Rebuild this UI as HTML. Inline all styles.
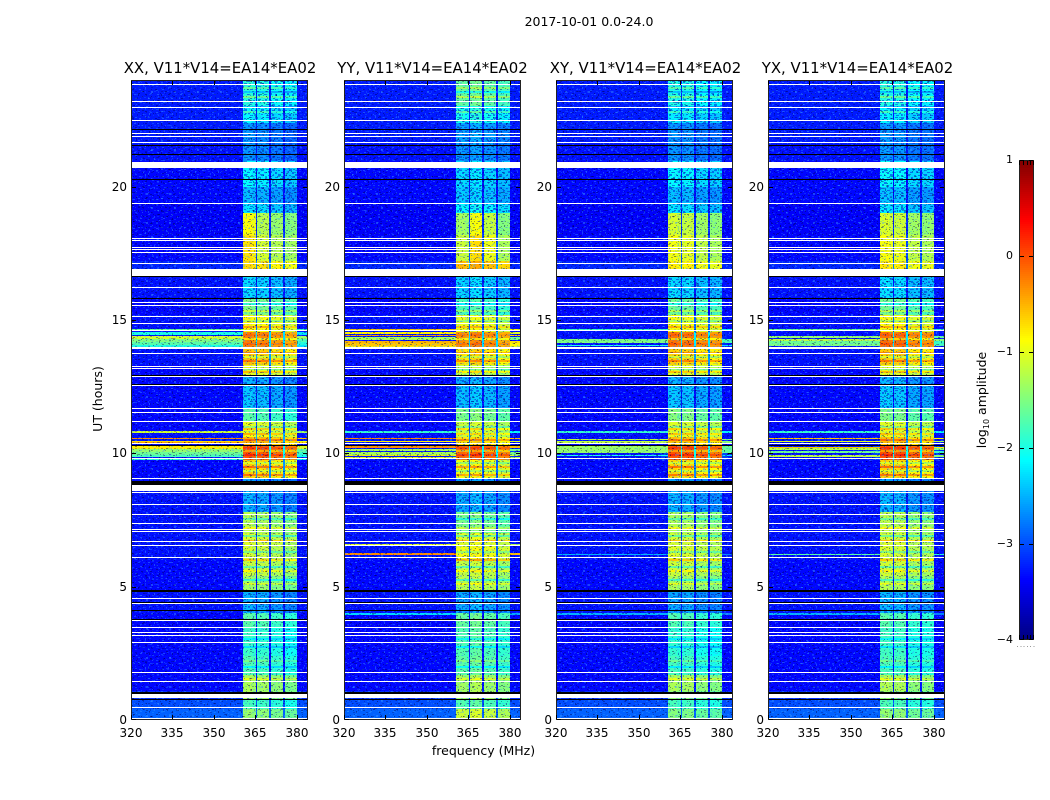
<!DOCTYPE html>
<html lang="en">
<head>
<meta charset="utf-8">
<title>2017-10-01 0.0-24.0 dynamic spectra</title>
<style>
  html, body { margin: 0; padding: 0; background: #fff; }
  svg { display: block; font-family: "DejaVu Sans", "Liberation Sans", sans-serif; fill: #000; }
  .title { font-size: 14.9px; text-anchor: middle; }
  .tick { font-size: 12px; }
  .label { font-size: 12.5px; }
</style>
</head>
<body>
<svg id="figure" width="1050" height="800" viewBox="0 0 1050 800" xmlns="http://www.w3.org/2000/svg">
  <defs>
    <pattern id="speckle-a" width="23" height="29" patternUnits="userSpaceOnUse">
      <g fill="#40a0ff" fill-opacity="0.4">
        <rect x="1" y="2" width="2" height="1"/><rect x="7" y="0" width="1" height="2"/><rect x="13" y="4" width="2" height="2"/>
        <rect x="19" y="7" width="2" height="1"/><rect x="4" y="9" width="1" height="1"/><rect x="10" y="11" width="2" height="1"/>
        <rect x="16" y="13" width="1" height="2"/><rect x="2" y="15" width="2" height="1"/><rect x="21" y="17" width="1" height="1"/>
        <rect x="8" y="19" width="2" height="2"/><rect x="14" y="22" width="1" height="1"/><rect x="0" y="24" width="2" height="1"/>
        <rect x="18" y="25" width="2" height="1"/><rect x="5" y="27" width="1" height="1"/><rect x="11" y="26" width="1" height="2"/>
      </g>
      <g fill="#000050" fill-opacity="0.45">
        <rect x="4" y="4" width="2" height="1"/><rect x="10" y="1" width="1" height="1"/><rect x="17" y="2" width="2" height="1"/>
        <rect x="0" y="7" width="1" height="2"/><rect x="7" y="7" width="2" height="1"/><rect x="13" y="9" width="1" height="1"/>
        <rect x="20" y="11" width="2" height="1"/><rect x="5" y="13" width="2" height="1"/><rect x="11" y="15" width="1" height="2"/>
        <rect x="18" y="18" width="2" height="1"/><rect x="3" y="20" width="1" height="1"/><rect x="12" y="20" width="2" height="1"/>
        <rect x="7" y="24" width="2" height="1"/><rect x="15" y="26" width="1" height="1"/><rect x="21" y="22" width="1" height="2"/>
      </g>
    </pattern>
    <pattern id="speckle-b" width="31" height="19" patternUnits="userSpaceOnUse">
      <g fill="#30b0ff" fill-opacity="0.3">
        <rect x="3" y="1" width="1" height="1"/><rect x="11" y="3" width="2" height="1"/><rect x="24" y="2" width="1" height="2"/>
        <rect x="17" y="6" width="1" height="1"/><rect x="6" y="8" width="2" height="1"/><rect x="28" y="9" width="2" height="1"/>
        <rect x="14" y="11" width="2" height="1"/><rect x="21" y="13" width="1" height="1"/><rect x="1" y="14" width="2" height="1"/>
        <rect x="9" y="16" width="1" height="1"/><rect x="26" y="17" width="2" height="1"/>
      </g>
      <g fill="#000040" fill-opacity="0.36">
        <rect x="7" y="2" width="2" height="1"/><rect x="18" y="1" width="1" height="1"/><rect x="29" y="5" width="1" height="1"/>
        <rect x="2" y="5" width="2" height="1"/><rect x="12" y="7" width="1" height="1"/><rect x="22" y="7" width="2" height="1"/>
        <rect x="9" y="12" width="1" height="1"/><rect x="18" y="15" width="2" height="1"/><rect x="5" y="17" width="1" height="1"/>
        <rect x="27" y="13" width="1" height="1"/><rect x="14" y="17" width="2" height="1"/>
      </g>
    </pattern>
    <pattern id="speckle-c" width="13" height="17" patternUnits="userSpaceOnUse">
      <g fill="#2c80ff" fill-opacity="0.28">
        <rect x="0" y="1" width="2" height="1"/><rect x="5" y="3" width="1" height="1"/><rect x="9" y="0" width="2" height="1"/>
        <rect x="2" y="6" width="1" height="2"/><rect x="11" y="6" width="2" height="1"/><rect x="6" y="9" width="2" height="1"/>
        <rect x="1" y="12" width="2" height="1"/><rect x="10" y="13" width="1" height="1"/><rect x="5" y="15" width="2" height="1"/>
      </g>
      <g fill="#000060" fill-opacity="0.3">
        <rect x="3" y="0" width="1" height="1"/><rect x="8" y="2" width="2" height="1"/><rect x="0" y="4" width="1" height="1"/>
        <rect x="5" y="6" width="2" height="1"/><rect x="9" y="8" width="1" height="1"/><rect x="3" y="10" width="1" height="1"/>
        <rect x="12" y="11" width="1" height="1"/><rect x="7" y="12" width="1" height="2"/><rect x="2" y="15" width="2" height="1"/>
      </g>
    </pattern>
    <pattern id="band-mottle" width="17" height="13" patternUnits="userSpaceOnUse">
      <g fill="#0030e0" fill-opacity="0.62">
        <rect x="0" y="0" width="3" height="2"/><rect x="6" y="1" width="2" height="1"/><rect x="11" y="0" width="3" height="1"/>
        <rect x="3" y="3" width="2" height="2"/><rect x="9" y="3" width="3" height="1"/><rect x="15" y="2" width="2" height="2"/>
        <rect x="0" y="6" width="2" height="1"/><rect x="6" y="5" width="3" height="2"/><rect x="13" y="6" width="2" height="1"/>
        <rect x="3" y="8" width="3" height="1"/><rect x="10" y="8" width="2" height="2"/><rect x="15" y="9" width="2" height="1"/>
        <rect x="0" y="10" width="2" height="2"/><rect x="6" y="10" width="2" height="1"/><rect x="12" y="11" width="3" height="1"/>
      </g>
    </pattern>
  </defs>

  <rect x="0" y="0" width="1050" height="800" fill="#fff"/>
  <g id="panels"></g>
  <g id="colorbar"></g>

  <text x="589" y="26" font-size="12.5" text-anchor="middle">2017-10-01 0.0-24.0</text>
  <text class="title" x="220" y="73">XX, V11*V14=EA14*EA02</text>
  <text class="title" x="432.5" y="73">YY, V11*V14=EA14*EA02</text>
  <text class="title" x="645.5" y="73">XY, V11*V14=EA14*EA02</text>
  <text class="title" x="857.5" y="73">YX, V11*V14=EA14*EA02</text>
  <text class="label" text-anchor="middle" transform="translate(102 399) rotate(-90)">UT (hours)</text>
  <text class="label" x="483.5" y="755" text-anchor="middle">frequency (MHz)</text>
  <text class="label" text-anchor="middle" transform="translate(986 400) rotate(-90)">log<tspan font-size="8" dy="3">10</tspan><tspan dy="-3"> amplitude</tspan></text>
</svg>

<script>
// ---- Chart data ----
const panelNames = ['xx', 'yy', 'xy', 'yx'];
const freqTicks = [320, 335, 350, 365, 380];
const hourTicks = [0, 5, 10, 15, 20];
const colorbarTicks = [1, 0, -1, -2, -3, -4];

// Frequency bins (MHz) and response of each bin relative to the band level (log10)
const freqEdges = [320, 345, 352, 355, 358, 360.6, 362, 363.6, 365.1, 365.6, 367, 369.9, 370.7, 373, 375, 375.6, 378, 379.9, 382, 384];
const freqShape = [-9, -3.6, -3.3, -3.1, -2.9, 0.05, 0.08, 0, -1.9, 0, 0.05, -1.9, 0, 0.03, -1.9, 0, 0.03, -2.9, -3.1];

// Time segments (hours) and levels
const segmentHours = [0, 0.4, 0.8, 1.1, 1.7, 2.4, 3.5, 4.0, 4.85, 5.4, 6.0, 6.5, 7.0, 7.8, 8.6, 9.06, 9.75, 10.3, 10.76, 11.2, 11.7, 12.6, 12.91, 13.3, 13.9, 14.55, 15.2, 15.8, 16.6, 16.9, 17.2, 18.2, 19.0, 19.4, 20.0, 20.95, 21.6, 22.4, 23.0, 24];
const backgroundLevels = [-2.9, -3.0, -3.15, -3.35, -3.35, -3.35, -3.35, -3.3, -3.35, -3.35, -3.3, -3.3, -3.3, -3.3, -3.3, -3.35, -3.3, -3.3, -3.35, -3.35, -3.35, -3.35, -3.35, -3.3, -3.3, -3.3, -3.35, -3.3, -3.3, -3.2, -3.35, -3.4, -3.4, -3.35, -3.35, -3.3, -3.25, -3.25, -3.25];
const bandLevelsXX = [-1.5, -1.9, -1.4, -1.4, -1.85, -1.95, -1.8, -2.6, -1.45, -1.25, -1.2, -1.15, -1.35, -2.6, -2.7, -0.75, -0.15, -0.6, -1.1, -1.8, -2.5, -2.6, -1.1, -0.7, -0.35, -0.95, -1.6, -2.4, -1.3, -0.8, -1.15, -1.3, -2.35, -2.55, -2.25, -2.75, -2.75, -2.25, -2.05];
const bandLevelsYY = [-1.2, -1.8, -1.4, -1.4, -1.75, -1.8, -1.7, -2.6, -1.3, -1.25, -1.0, -1.1, -1.6, -2.6, -2.7, -1.0, -0.2, -0.8, -1.2, -1.6, -2.5, -2.6, -1.3, -0.8, -0.4, -1.05, -1.85, -2.4, -0.8, -0.6, -1.1, -1.3, -2.2, -2.45, -2.35, -2.7, -2.65, -2.1, -1.7];
const bandLevelsXY = [-1.6, -1.9, -1.55, -1.4, -1.9, -2.0, -1.85, -2.65, -1.4, -1.25, -1.15, -1.2, -1.4, -2.6, -2.7, -0.8, -0.15, -0.7, -1.15, -1.6, -2.5, -2.6, -1.15, -0.75, -0.3, -1.0, -1.7, -2.4, -1.4, -0.9, -1.15, -1.3, -2.35, -2.55, -2.25, -2.75, -2.75, -2.3, -2.1];
const bandLevelsYX = [-1.55, -1.9, -1.55, -1.4, -1.9, -1.95, -1.85, -2.6, -1.4, -1.25, -1.2, -1.2, -1.35, -2.6, -2.7, -0.8, -0.15, -0.7, -1.15, -1.65, -2.5, -2.6, -1.15, -0.75, -0.3, -1.0, -1.7, -2.4, -1.4, -0.9, -1.15, -1.3, -2.35, -2.55, -2.25, -2.75, -2.75, -2.3, -2.1];

// Offset of each of the four sub-bands, per panel
const subbandOffsetsXX = [0.05, 0.02, -0.05, -0.15];
const subbandOffsetsYY = [0, 0.1, 0.02, -0.1];
const subbandOffsetsXY = [0.05, 0.05, -0.05, -0.1];
const subbandOffsetsYX = [0.08, 0.08, -0.05, -0.08];

// Extra sub-band offsets during the 17.2-19 h epoch, per panel
const epochSegmentStarts = [17.2, 18.2];
const epochOffsetsXX = [0.3, 0, -0.05, -0.05];
const epochOffsetsYY = [-0.1, 0.25, 0.1, -0.1];
const epochOffsetsXY = [0.1, 0.05, 0, -0.05];
const epochOffsetsYX = [0.1, 0.05, 0, -0.05];

// In-band horizontal stripes: hour and level change
const stripeHours = [1.55, 2.0, 2.2, 2.75, 3.05, 5.1, 5.25, 5.6, 5.75, 6.0, 6.3, 6.7, 6.9, 7.2, 7.55, 9.2, 9.35, 9.5, 9.65, 9.95, 10.1, 10.2, 10.5, 10.65, 10.9, 11.0, 13.05, 13.15, 13.45, 13.6, 13.75, 14.1, 14.3, 14.45, 14.75, 14.95, 15.35, 15.6, 22.8, 23.0, 23.35, 23.55, 23.7];
const stripeDeltas = [0.3, -0.4, 0.2, -0.4, -0.3, 0.3, -0.5, 0.3, -0.5, 0.45, -0.4, 0.5, -0.5, 0.35, -0.4, 0.45, -0.4, 0.5, -0.4, 0.25, -0.35, 0.15, 0.4, -0.4, 0.4, -0.35, 0.45, -0.4, 0.4, -0.45, 0.35, 0.15, -0.45, 0.1, 0.4, -0.4, 0.35, -0.4, 0.35, -0.45, 0.4, -0.4, 0.3];

// Broadband interference outside the band: hour, level, thickness (hours)
const rfiHoursXX = [14.65, 14.5, 14.35, 14.22, 14.1, 14.02, 10.8, 10.55, 10.46, 10.42, 10.22, 10.12, 10.0, 9.9, 9.78];
const rfiLevelsXX = [-1.6, -2.0, -1.1, -1.5, -1.7, -2.0, -1.1, -0.3, -0.7, -0.4, -0.8, -1.4, -1.6, -1.8, -1.9];
const rfiWidthsXX = [0.04, 0.1, 0.12, 0.1, 0.15, 0.05, 0.05, 0.06, 0.04, 0.04, 0.1, 0.12, 0.1, 0.05, 0.05];
const rfiHoursYY = [14.65, 14.5, 14.42, 14.3, 14.18, 14.08, 14.0, 10.8, 10.55, 10.45, 10.25, 10.12, 10.0, 9.92, 9.83, 6.56, 6.21, 3.98];
const rfiLevelsYY = [-0.6, -0.8, -0.4, -1.3, -0.5, -0.6, -0.8, -1.9, -0.3, -0.8, -0.3, -1.3, -1.3, -0.8, -1.0, -1.0, -0.3, -2.3];
const rfiWidthsYY = [0.04, 0.08, 0.05, 0.1, 0.1, 0.08, 0.08, 0.04, 0.06, 0.05, 0.07, 0.1, 0.1, 0.05, 0.05, 0.05, 0.07, 0.05];
const rfiHoursXY = [14.65, 14.22, 14.05, 10.8, 10.52, 10.42, 10.2, 10.08, 9.92, 9.8, 6.21, 3.98];
const rfiLevelsXY = [-1.8, -1.5, -2.0, -1.9, -1.2, -1.2, -1.35, -1.4, -2.0, -2.0, -2.5, -2.5];
const rfiWidthsXY = [0.04, 0.16, 0.06, 0.05, 0.05, 0.05, 0.12, 0.12, 0.05, 0.05, 0.06, 0.05];
const rfiHoursYX = [14.65, 14.35, 14.25, 14.15, 14.05, 10.8, 10.55, 10.45, 10.38, 10.22, 10.15, 10.05, 9.9, 9.8, 6.21, 3.98];
const rfiLevelsYX = [-1.6, -1.4, -1.2, -1.6, -1.5, -1.9, -0.6, -1.0, -1.0, -0.6, -1.2, -1.6, -1.2, -1.8, -1.7, -2.5];
const rfiWidthsYX = [0.04, 0.08, 0.1, 0.1, 0.08, 0.05, 0.05, 0.05, 0.03, 0.06, 0.08, 0.08, 0.04, 0.04, 0.05, 0.05];

// Flagged (blank) and black-line times, identical in all panels
const flaggedHours = [23.84, 23.22, 23.0, 22.49, 22.0, 21.9, 21.66, 19.38, 18.09, 18.0, 17.75, 17.65, 17.54, 17.13, 16.23, 15.69, 15.56, 15.14, 14.88, 14.62, 13.98, 13.76, 13.29, 13.2, 12.9, 12.56, 11.69, 11.54, 11.2, 10.39, 9.83, 9.06, 8.55, 8.11, 7.73, 7.4, 7.16, 7.08, 6.71, 6.56, 6.1, 4.56, 4.38, 3.75, 3.5, 3.31, 3.18, 2.91, 1.79, 1.45, 0.48, 0.09];
const flaggedBlockStarts = [20.7, 16.66, 8.6, 0.82, 13.93];
const flaggedBlockEnds = [20.93, 16.9, 8.84, 0.98, 14.0];
const blackHours = [22.15, 21.55, 21.24, 20.28, 16.64, 15.81, 12.93, 12.6, 10.31, 8.98, 8.94, 8.9, 8.86, 4.86, 4.82, 4.44, 4.11, 3.8, 1.06, 1.02, 0.79];

const panelBands = [bandLevelsXX, bandLevelsYY, bandLevelsXY, bandLevelsYX];
const panelSubbands = [subbandOffsetsXX, subbandOffsetsYY, subbandOffsetsXY, subbandOffsetsYX];
const panelEpochs = [epochOffsetsXX, epochOffsetsYY, epochOffsetsXY, epochOffsetsYX];
const panelRfiHours = [rfiHoursXX, rfiHoursYY, rfiHoursXY, rfiHoursYX];
const panelRfiLevels = [rfiLevelsXX, rfiLevelsYY, rfiLevelsXY, rfiLevelsYX];
const panelRfiWidths = [rfiWidthsXX, rfiWidthsYY, rfiWidthsXY, rfiWidthsYX];

// ---- Layout and axis functions ----
const NS = 'http://www.w3.org/2000/svg';
const panelLefts = [131, 344, 556, 768];
const panelWidth = 177, plotTop = 80, plotBottom = 720;
const freqMin = 320, freqMax = 384, hourMin = 0, hourMax = 24;
const levelMin = -4, levelMax = 1;
const cbLeft = 1019, cbRight = 1034, cbTop = 160, cbBottom = 640;

function xScale(left, freq) { return left + (freq - freqMin) / (freqMax - freqMin) * panelWidth; }
function yScale(hour) { return plotBottom - (hour - hourMin) / (hourMax - hourMin) * (plotBottom - plotTop); }
function cbScale(level) { return cbBottom - (level - levelMin) / (levelMax - levelMin) * (cbBottom - cbTop); }

function clamp01(v) { return Math.max(0, Math.min(1, v)); }
function jet(level) {
  const t = clamp01((level - levelMin) / (levelMax - levelMin));
  const r = clamp01(Math.min(4 * t - 1.5, -4 * t + 4.5));
  const g = clamp01(Math.min(4 * t - 0.5, -4 * t + 3.5));
  const b = clamp01(Math.min(4 * t + 0.5, -4 * t + 2.5));
  return 'rgb(' + Math.round(r * 255) + ',' + Math.round(g * 255) + ',' + Math.round(b * 255) + ')';
}

function makeRect(parent, x, y, w, h, fill) {
  const r = document.createElementNS(NS, 'rect');
  r.setAttribute('x', x);
  r.setAttribute('y', y);
  r.setAttribute('width', w);
  r.setAttribute('height', h);
  r.setAttribute('fill', fill);
  r.setAttribute('shape-rendering', 'crispEdges');
  parent.appendChild(r);
  return r;
}
function makeText(parent, x, y, anchor, str) {
  const t = document.createElementNS(NS, 'text');
  t.setAttribute('x', x);
  t.setAttribute('y', y);
  t.setAttribute('text-anchor', anchor);
  t.setAttribute('class', 'tick');
  t.textContent = str;
  parent.appendChild(t);
  return t;
}
function makeGroup(parent) {
  const g = document.createElementNS(NS, 'g');
  parent.appendChild(g);
  return g;
}
function subbandIndex(freq) {
  if (freq < 365.3) return 0;
  if (freq < 370.3) return 1;
  if (freq < 375.3) return 2;
  return 3;
}
function segmentIndex(hour) {
  for (let s = 0; s < segmentHours.length - 1; s++) {
    if (hour >= segmentHours[s] && hour < segmentHours[s + 1]) return s;
  }
  return segmentHours.length - 2;
}
function bandOffset(p, s, freq) {
  const k = subbandIndex(freq);
  const inEpoch = epochSegmentStarts.indexOf(segmentHours[s]) >= 0;
  return panelSubbands[p][k] + (inEpoch ? panelEpochs[p][k] : 0);
}

// ---- Draw panels ----
const panelsRoot = document.getElementById('panels');

panelNames.forEach(function (name, p) {
  const left = panelLefts[p];
  const panel = makeGroup(panelsRoot);
  
  

  const heat = makeGroup(panel);
  
  

  // Cells: one per time segment and frequency bin
  for (let s = 0; s < segmentHours.length - 1; s++) {
    const y0 = Math.round(yScale(segmentHours[s + 1]));
    const y1 = Math.round(yScale(segmentHours[s]));
    for (let f = 0; f < freqEdges.length - 1; f++) {
      const x0 = Math.round(xScale(left, freqEdges[f]));
      const x1 = Math.round(xScale(left, freqEdges[f + 1]));
      const mid = (freqEdges[f] + freqEdges[f + 1]) / 2;
      const inBand = freqShape[f] > -1;
      const offset = inBand ? bandOffset(p, s, mid) : 0;
      const level = Math.max(backgroundLevels[s], panelBands[p][s] + freqShape[f] + offset);
      const cell = makeRect(heat, x0, y0, x1 - x0, y1 - y0, jet(level));
      
      
    }
    // Dim band periods look mottled rather than flat
    if (panelBands[p][s] < -2) {
      const bx0 = Math.round(xScale(left, 360.6));
      const bx1 = Math.round(xScale(left, 379.9));
      const mottle = makeRect(heat, bx0, y0, bx1 - bx0, y1 - y0, 'url(#band-mottle)');
      
      
    }
  }

  // Stripes inside the band
  stripeHours.forEach(function (hour, i) {
    const s = segmentIndex(hour);
    const yTop = Math.round(yScale(hour + 0.04));
    const h = Math.max(1, Math.round(yScale(hour - 0.04)) - yTop);
    for (let f = 0; f < freqEdges.length - 1; f++) {
      if (freqShape[f] <= -1) continue;
      const x0 = Math.round(xScale(left, freqEdges[f]));
      const x1 = Math.round(xScale(left, freqEdges[f + 1]));
      const mid = (freqEdges[f] + freqEdges[f + 1]) / 2;
      const level = panelBands[p][s] + freqShape[f] + bandOffset(p, s, mid) + stripeDeltas[i];
      const stripe = makeRect(heat, x0, yTop, x1 - x0, h, jet(level));
      
      
    }
  });

  // Broadband interference lines outside the band
  panelRfiHours[p].forEach(function (hour, i) {
    const yTop = Math.round(yScale(hour + panelRfiWidths[p][i] / 2));
    const h = Math.max(1, Math.round(yScale(hour - panelRfiWidths[p][i] / 2)) - yTop);
    const x0 = Math.round(xScale(left, freqMin));
    const x1 = Math.round(xScale(left, 360.6));
    const x2 = Math.round(xScale(left, 379.9));
    const x3 = Math.round(xScale(left, freqMax));
    const rfiLeft = makeRect(heat, x0, yTop, x1 - x0, h, jet(panelRfiLevels[p][i]));
    
    
    const rfiRight = makeRect(heat, x2, yTop, x3 - x2, h, jet(panelRfiLevels[p][i] - 0.25));
    
    
  });

  // Decorative speckle texture over the cells
  const textureA = makeRect(panel, left, plotTop, panelWidth, plotBottom - plotTop, 'url(#speckle-a)');
  
  
  const textureB = makeRect(panel, left, plotTop, panelWidth, plotBottom - plotTop, 'url(#speckle-b)');
  
  
  const textureC = makeRect(panel, left, plotTop, panelWidth, plotBottom - plotTop, 'url(#speckle-c)');
  
  

  // Flagged rows
  flaggedHours.forEach(function (hour) {
    const line = makeRect(panel, left, Math.round(yScale(hour)), panelWidth, 1, '#fff');
    
    
  });
  flaggedBlockStarts.forEach(function (start, i) {
    const yTop = Math.round(yScale(flaggedBlockEnds[i]));
    const h = Math.round(yScale(start)) - yTop;
    const block = makeRect(panel, left, yTop, panelWidth, h, '#fff');
    
    
  });
  blackHours.forEach(function (hour) {
    const line = makeRect(panel, left, Math.round(yScale(hour)), panelWidth, 1, '#000');
    
    
  });

  // Frame
  const frame = document.createElementNS(NS, 'rect');
  frame.setAttribute('x', left + 0.5);
  frame.setAttribute('y', plotTop + 0.5);
  frame.setAttribute('width', panelWidth - 1);
  frame.setAttribute('height', plotBottom - plotTop - 1);
  frame.setAttribute('fill', 'none');
  frame.setAttribute('stroke', '#222');
  
  
  panel.appendChild(frame);

  // Frequency ticks
  freqTicks.forEach(function (freq) {
    const tx = Math.round(xScale(left, freq));
    const tickBottom = makeRect(panel, tx, plotBottom - 5, 1, 4, '#000');
    
    
    const tickTop = makeRect(panel, tx, plotTop + 1, 1, 4, '#000');
    
    
    const label = makeText(panel, tx, plotBottom + 17, 'middle', String(freq));
    
    
  });

  // Hour ticks
  hourTicks.forEach(function (hour) {
    const ty = Math.min(plotBottom - 1, Math.round(yScale(hour)));
    const tickLeft = makeRect(panel, left + 1, ty, 4, 1, '#000');
    
    
    const tickRight = makeRect(panel, left + panelWidth - 5, ty, 4, 1, '#000');
    
    
    const label = makeText(panel, left - 4, Math.round(yScale(hour)) + 4, 'end', String(hour));
    
    
  });
});

// ---- Colorbar ----
const cbRoot = document.getElementById('colorbar');
const cbSteps = 240;
for (let i = 0; i < cbSteps; i++) {
  const level = levelMin + (i + 0.5) / cbSteps * (levelMax - levelMin);
  const top = Math.round(cbScale(levelMin + (i + 1) / cbSteps * (levelMax - levelMin)));
  const bottom = Math.round(cbScale(levelMin + i / cbSteps * (levelMax - levelMin)));
  const swatch = makeRect(cbRoot, cbLeft, top, cbRight - cbLeft, bottom - top, jet(level));
  
  
}
const cbFrame = document.createElementNS(NS, 'rect');
cbFrame.setAttribute('x', cbLeft + 0.5);
cbFrame.setAttribute('y', cbTop + 0.5);
cbFrame.setAttribute('width', cbRight - cbLeft - 1);
cbFrame.setAttribute('height', cbBottom - cbTop - 1);
cbFrame.setAttribute('fill', 'none');
cbFrame.setAttribute('stroke', '#222');


cbRoot.appendChild(cbFrame);

colorbarTicks.forEach(function (level) {
  const ty = Math.min(cbBottom - 1, Math.round(cbScale(level)));
  const tickLeft = makeRect(cbRoot, cbLeft + 1, ty, 4, 1, '#000');
  
  
  const tickRight = makeRect(cbRoot, cbRight - 5, ty, 4, 1, '#000');
  
  
  const label = makeText(cbRoot, cbLeft - 6, Math.round(cbScale(level)) + 3, 'end', String(level).replace('-', '\u2212'));
  label.setAttribute('style', 'font-size:11px');
  
  
});

[0, 1, 2, 3, 4].forEach(function (k) {
  const tx = cbLeft + Math.round(k * (cbRight - cbLeft) / 4);
  const capTop = makeRect(cbRoot, Math.min(tx, cbRight - 1), cbTop + 1, 1, 4, '#000');
  
  
  const capBottom = makeRect(cbRoot, Math.min(tx, cbRight - 1), cbBottom - 5, 1, 4, '#000');
  
  
});

[0, 1, 2, 3, 4, 5].forEach(function (k) {
  const dot = makeRect(cbRoot, 1017 + k * 3.3, 646, 1, 1, '#999');
  
  
});
</script>
</body>
</html>
